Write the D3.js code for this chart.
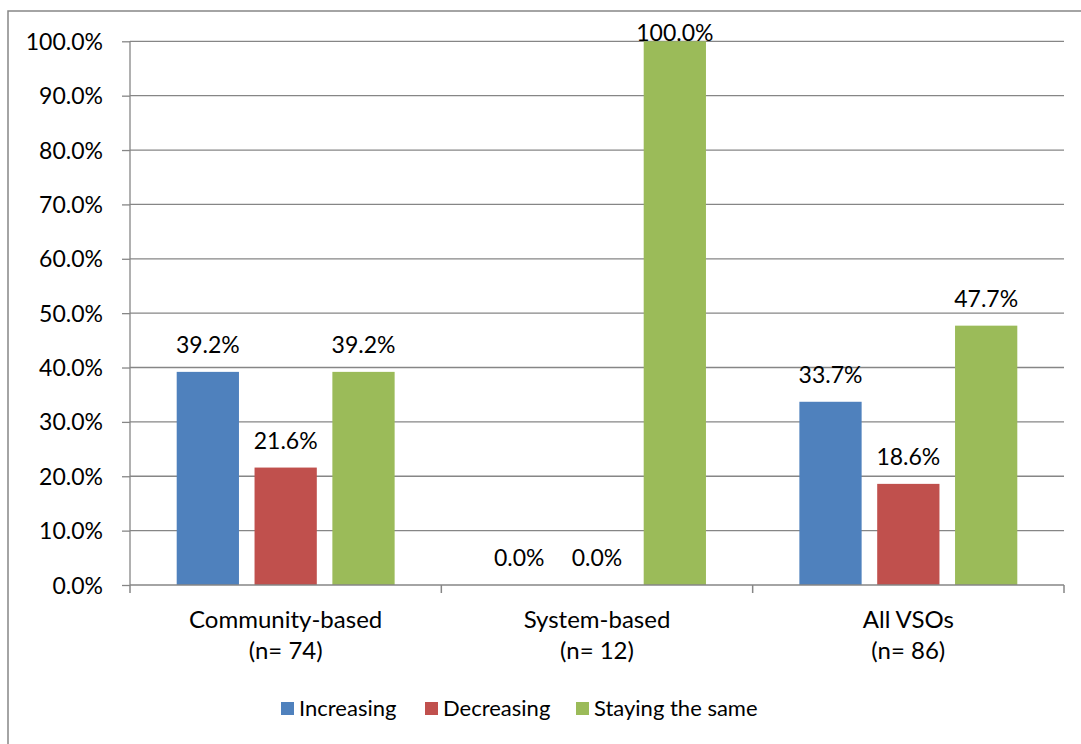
<!DOCTYPE html>
<html>
<head>
<meta charset="utf-8">
<script src="https://cdn.jsdelivr.net/npm/d3@7"></script>
<style>
  html, body { margin: 0; padding: 0; background: #fff; }
  svg { display: block; font-family: Lato, "Open Sans", sans-serif; }
</style>
</head>
<body>
<svg id="chart" width="1081" height="744"></svg>
<script>
// Survey groups and sample sizes
const categories = ["Community-based", "System-based", "All VSOs"];
const sampleSizes = ["(n= 74)", "(n= 12)", "(n= 86)"];

// Share of organisations by trend (percent)
const seriesNames = ["Increasing", "Decreasing", "Staying the same"];
const increasing = [39.2, 0.0, 33.7];
const decreasing = [21.6, 0.0, 18.6];
const stayingSame = [39.2, 100.0, 47.7];
const seriesValues = [increasing, decreasing, stayingSame];
const seriesColors = ["#4f81bd", "#c0504d", "#9bbb59"];

const yTicks = [0, 10, 20, 30, 40, 50, 60, 70, 80, 90, 100];

const svg = d3.select("#chart");
const W = 1081, H = 744;

// outer frame of the chart area
svg.append("rect")
  .attr("x", 8).attr("y", 11)
  .attr("width", W + 10).attr("height", H + 10)
  .attr("fill", "none").attr("stroke", "#868686").attr("stroke-width", 1.5);

const plot = { left: 130, right: 1064, top: 41.3, bottom: 585 };

const x0 = d3.scaleBand()
  .domain(categories)
  .range([plot.left, plot.right])
  .paddingInner(0).paddingOuter(0);

const y = d3.scaleLinear().domain([0, 100]).range([plot.bottom, plot.top]);

// bar geometry: gap width 150%, series overlap -25%
const band = x0.bandwidth();
const barW = band / (3 + 2 * 0.25 + 1.5);
const step = barW * 1.25;
const offset0 = barW * 0.75;

// gridlines and y-axis
const yAxis = d3.axisLeft(y)
  .tickValues(yTicks)
  .tickSize(8)
  .tickFormat(d => d3.format(".1f")(d) + "%");

const gy = svg.append("g")
  .attr("transform", `translate(${plot.left},0)`)
  .call(yAxis);
gy.select(".domain").attr("stroke", "#868686").attr("stroke-width", 1.3)
  .attr("d", `M0,${plot.top}V${plot.bottom}`);
gy.selectAll(".tick line").attr("stroke", "#868686").attr("stroke-width", 1.3);
gy.selectAll(".tick text")
  .attr("x", -27)
  .attr("dy", "0.35em")
  .attr("fill", "#000")
  .style("font-size", "23px")
  .style("font-family", "Lato, 'Open Sans', sans-serif");

svg.append("g")
  .selectAll("line")
  .data(yTicks.filter(d => d > 0))
  .join("line")
  .attr("x1", plot.left).attr("x2", plot.right)
  .attr("y1", d => y(d)).attr("y2", d => y(d))
  .attr("stroke", "#868686").attr("stroke-width", 1.3);

// bars
const groups = svg.append("g")
  .selectAll("g")
  .data(seriesValues)
  .join("g")
  .attr("fill", (d, i) => seriesColors[i]);

groups.selectAll("rect")
  .data((vals, si) => vals.map((v, ci) => ({ v, ci, si })))
  .join("rect")
  .attr("x", d => x0(categories[d.ci]) + offset0 + d.si * step)
  .attr("width", barW)
  .attr("y", d => y(d.v))
  .attr("height", d => y(0) - y(d.v));

// value labels (kept inside the plot area at the top)
svg.append("g")
  .selectAll("text")
  .data(seriesValues.flatMap((vals, si) => vals.map((v, ci) => ({ v, ci, si }))))
  .join("text")
  .attr("x", d => x0(categories[d.ci]) + offset0 + d.si * step + barW / 2)
  .attr("y", d => Math.max(y(d.v) - 19, plot.top))
  .attr("text-anchor", "middle")
  .style("font-size", "23px")
  .attr("fill", "#000")
  .text(d => d3.format(".1f")(d.v) + "%");

// category axis
const xAxisG = svg.append("g");
xAxisG.append("line")
  .attr("x1", plot.left).attr("x2", plot.right)
  .attr("y1", plot.bottom).attr("y2", plot.bottom)
  .attr("stroke", "#868686").attr("stroke-width", 1.5);
const boundaries = categories.map(c => x0(c)).concat([plot.right]);
xAxisG.selectAll("line.tick")
  .data(boundaries)
  .join("line")
  .attr("class", "tick")
  .attr("x1", d => d).attr("x2", d => d)
  .attr("y1", plot.bottom).attr("y2", plot.bottom + 8)
  .attr("stroke", "#868686").attr("stroke-width", 1.5);

const catLabels = xAxisG.selectAll("text.cat")
  .data(categories)
  .join("text")
  .attr("class", "cat")
  .attr("text-anchor", "middle")
  .style("font-size", "24px")
  .attr("fill", "#000");
catLabels.append("tspan")
  .attr("x", d => x0(d) + band / 2)
  .attr("y", 628)
  .text(d => d);
catLabels.append("tspan")
  .attr("x", d => x0(d) + band / 2)
  .attr("y", 659)
  .text((d, i) => sampleSizes[i]);

// legend
const legendItems = [
  { name: seriesNames[0], color: seriesColors[0], x: 281 },
  { name: seriesNames[1], color: seriesColors[1], x: 425 },
  { name: seriesNames[2], color: seriesColors[2], x: 576 }
];
const lg = svg.append("g").selectAll("g")
  .data(legendItems)
  .join("g")
  .attr("transform", d => `translate(${d.x},0)`);
lg.append("rect")
  .attr("x", 0).attr("y", 702)
  .attr("width", 13).attr("height", 13)
  .attr("fill", d => d.color);
lg.append("text")
  .attr("x", 18).attr("y", 716)
  .style("font-size", "22px")
  .attr("fill", "#000")
  .text(d => d.name);
</script>
</body>
</html>
